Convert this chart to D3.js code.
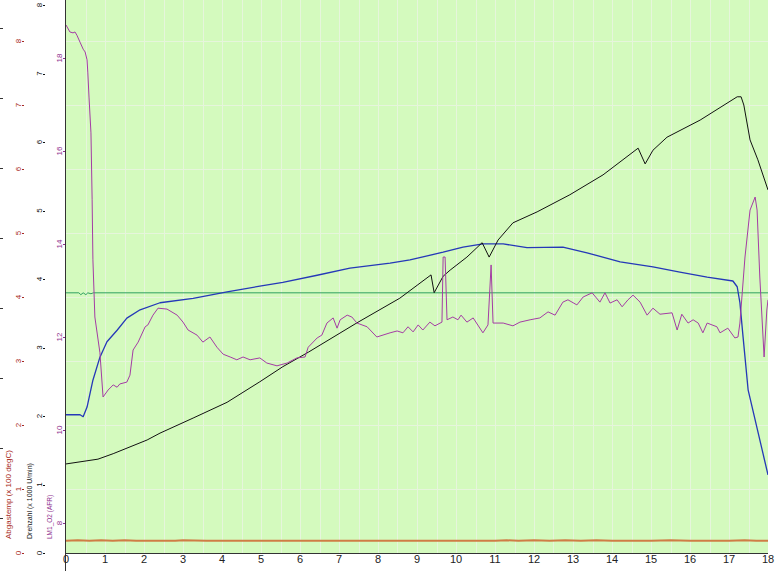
<!DOCTYPE html>
<html>
<head>
<meta charset="utf-8">
<script src="https://cdn.jsdelivr.net/npm/d3@7"></script>
<style>
  body { margin: 0; background: #fff; }
  svg { display: block; font-family: "Liberation Sans", Arial, sans-serif; }
</style>
</head>
<body>
<svg id="chart" width="778" height="571"></svg>
<script>
/* x axis ticks */
const xTicks = d3.range(0, 19);

/* Drehzahl (x 1000 U/min) */
const drehzahl = [
  [0, 1.30], [0.82, 1.37], [1.21, 1.45], [2.08, 1.65], [2.41, 1.75], [3.26, 1.97],
  [4.13, 2.20], [4.97, 2.50], [5.56, 2.72], [6.21, 2.93], [7.46, 3.36], [8.56, 3.72],
  [9.36, 4.06], [9.44, 3.80], [9.67, 4.04], [9.85, 4.13], [10.28, 4.32], [10.67, 4.53],
  [10.85, 4.32], [11.08, 4.57], [11.46, 4.82], [12.08, 4.98], [12.92, 5.23], [13.77, 5.52],
  [14.67, 5.91], [14.85, 5.68], [15.05, 5.88], [15.41, 6.07], [16.26, 6.32], [17.21, 6.66],
  [17.31, 6.66], [17.38, 6.54], [17.54, 6.03], [17.74, 5.74], [18, 5.30],
];

/* Abgastemp (x 100 degC) */
const abgastemp = [
  [0, 2.16], [0.36, 2.16], [0.44, 2.13], [0.54, 2.28], [0.69, 2.70], [0.87, 3.06],
  [1.05, 3.30], [1.31, 3.48], [1.56, 3.67], [1.90, 3.80], [2.41, 3.91], [3.26, 3.98],
  [4.13, 4.08], [4.97, 4.17], [5.56, 4.23], [6.44, 4.34], [7.28, 4.45], [8.31, 4.53],
  [8.82, 4.58], [9.67, 4.70], [10.18, 4.78], [10.69, 4.83], [11.21, 4.83], [11.82, 4.77],
  [12.74, 4.78], [13.36, 4.69], [14.21, 4.55], [15.05, 4.47], [15.74, 4.39], [16.44, 4.31],
  [17.10, 4.25], [17.21, 4.16], [17.28, 3.91], [17.36, 3.38], [17.49, 2.55], [17.67, 2.08],
  [17.85, 1.61], [18, 1.22],
];

/* LM1_O2 (AFR) */
const lm1O2 = [
  [0, 18.71], [0.10, 18.56], [0.18, 18.54], [0.23, 18.56], [0.28, 18.49], [0.36, 18.34],
  [0.44, 18.19], [0.49, 18.13], [0.54, 17.96], [0.56, 17.68], [0.59, 17.16], [0.64, 16.39],
  [0.67, 14.95], [0.69, 13.66], [0.74, 12.43], [0.87, 11.66], [0.95, 10.71], [1.08, 10.86],
  [1.21, 10.97], [1.31, 10.92], [1.38, 10.99], [1.56, 11.03], [1.64, 11.18], [1.72, 11.72],
  [1.85, 11.89], [2.03, 12.22], [2.10, 12.26], [2.23, 12.47], [2.36, 12.62], [2.59, 12.60],
  [2.85, 12.47], [3.00, 12.32], [3.13, 12.15], [3.36, 12.04], [3.51, 11.89], [3.69, 12.00],
  [3.87, 11.78], [4.03, 11.63], [4.21, 11.57], [4.38, 11.51], [4.54, 11.57], [4.72, 11.51],
  [4.97, 11.55], [5.15, 11.44], [5.41, 11.38], [5.67, 11.44], [5.92, 11.55], [6.13, 11.57],
  [6.21, 11.78], [6.44, 11.98], [6.56, 12.04], [6.69, 12.30], [6.85, 12.41], [6.95, 12.19],
  [7.03, 12.37], [7.21, 12.47], [7.33, 12.43], [7.46, 12.30], [7.72, 12.22], [7.97, 12.00],
  [8.31, 12.09], [8.49, 12.13], [8.64, 12.09], [8.77, 12.22], [8.90, 12.11], [9.03, 12.26],
  [9.15, 12.15], [9.33, 12.32], [9.46, 12.24], [9.64, 12.32], [9.67, 13.72], [9.72, 13.72],
  [9.77, 12.37], [9.92, 12.43], [10.05, 12.37], [10.13, 12.47], [10.28, 12.32], [10.44, 12.41],
  [10.69, 12.09], [10.82, 12.26], [10.90, 13.55], [10.95, 12.30], [11.21, 12.30], [11.46, 12.24],
  [11.64, 12.32], [11.90, 12.37], [12.15, 12.41], [12.36, 12.54], [12.54, 12.47], [12.74, 12.75],
  [12.87, 12.80], [13.10, 12.69], [13.26, 12.86], [13.49, 12.95], [13.69, 12.75], [13.82, 12.95],
  [13.95, 12.73], [14.13, 12.80], [14.26, 12.65], [14.41, 12.80], [14.54, 12.90], [14.72, 12.75],
  [14.90, 12.47], [15.05, 12.62], [15.23, 12.49], [15.54, 12.52], [15.67, 12.15], [15.79, 12.49],
  [15.95, 12.30], [16.08, 12.37], [16.21, 12.30], [16.33, 12.09], [16.44, 12.30], [16.69, 12.22],
  [16.77, 12.09], [16.97, 12.19], [17.15, 11.98], [17.23, 12.00], [17.28, 12.30], [17.41, 13.72],
  [17.54, 14.73], [17.67, 15.01], [17.72, 14.73], [17.79, 13.29], [17.90, 11.57], [17.97, 12.58],
  [18, 12.80],
];

/* constant reference line on the AFR scale */
const afrRef = [
  [0, 12.95], [0.33, 12.95], [0.38, 12.91], [0.44, 12.95], [0.51, 12.91], [0.56, 12.95],
  [0.64, 12.93], [0.70, 12.95], [18, 12.95],
];

/* low trace near the bottom (Abgastemp scale) */
const lowTrace = [
  [0, 0.19], [0.3, 0.20], [0.6, 0.19], [0.9, 0.20], [1.2, 0.19], [1.5, 0.20], [1.8, 0.19],
  [2.1, 0.19], [2.8, 0.19], [3.0, 0.20], [3.6, 0.19], [3.9, 0.19], [11.0, 0.19], [11.3, 0.20],
  [11.6, 0.19], [12.0, 0.20], [12.4, 0.19], [12.8, 0.20], [13.2, 0.19], [13.6, 0.20],
  [14.0, 0.19], [15.0, 0.19], [15.5, 0.20], [16.0, 0.19], [17.0, 0.19], [17.4, 0.20],
  [17.7, 0.19], [18, 0.19],
];

const redTicks = d3.range(0, 9);
const blackTicks = d3.range(0, 9);
const afrTicks = [8, 10, 12, 14, 16, 18];
const hiddenTicks = d3.range(1, 9);

const svg = d3.select('#chart');
const plotLeft = 66;
const plotRight = 768;
const plotTop = 0;
const plotBottom = 553;

const x = d3.scaleLinear().domain([0, 18]).range([plotLeft, plotRight]);
const yRed = d3.scaleLinear().domain([0, 8]).range([plotBottom, 41]);
const yBlack = d3.scaleLinear().domain([0, 8]).range([plotBottom, 5]);
const yAfr = d3.scaleLinear().domain([8, 18]).range([523, 58]);
const yHidden = d3.scaleLinear().domain([0, 8]).range([588, 28]);

/* plot background */
svg.append('rect')
  .attr('x', plotLeft).attr('y', plotTop)
  .attr('width', plotRight - plotLeft).attr('height', plotBottom - plotTop)
  .attr('fill', '#d4fabe');

/* grid */
const grid = svg.append('g').attr('stroke', '#e6f5dc').attr('stroke-width', 1);
grid.selectAll('.vg').data(d3.range(0.5, 18, 0.5))
  .join('line')
  .attr('x1', (d) => Math.round(x(d)) + 0.5).attr('x2', (d) => Math.round(x(d)) + 0.5)
  .attr('y1', plotTop).attr('y2', plotBottom);
grid.selectAll('.hg').data(d3.range(1, 9))
  .join('line')
  .attr('x1', plotLeft).attr('x2', plotRight)
  .attr('y1', (d) => Math.round(yRed(d)) + 0.5).attr('y2', (d) => Math.round(yRed(d)) + 0.5);

svg.append('clipPath').attr('id', 'clip')
  .append('rect')
  .attr('x', plotLeft)
  .attr('y', plotTop)
  .attr('width', plotRight - plotLeft)
  .attr('height', plotBottom - plotTop);

const plot = svg.append('g').attr('clip-path', 'url(#clip)');

function drawLine(data, yScale, color, width) {
  const line = d3.line().x((d) => x(d[0])).y((d) => yScale(d[1]));
  plot.append('path')
    .datum(data)
    .attr('d', line)
    .attr('fill', 'none')
    .attr('stroke', color)
    .attr('stroke-width', width)
    .attr('stroke-linejoin', 'round');
}

drawLine(lowTrace, yRed, '#cf7d45', 2);
drawLine(afrRef, yAfr, '#2fa060', 1);
drawLine(abgastemp, yRed, '#2538b8', 1.3);
drawLine(drehzahl, yBlack, '#111', 1);
drawLine(lm1O2, yAfr, '#a43ca4', 1);

/* frame lines */
svg.append('line')
  .attr('x1', plotLeft - 0.5).attr('x2', plotLeft - 0.5)
  .attr('y1', 0).attr('y2', 571)
  .attr('stroke', '#333');
svg.append('line')
  .attr('x1', plotLeft).attr('x2', plotRight)
  .attr('y1', plotBottom + 0.5).attr('y2', plotBottom + 0.5)
  .attr('stroke', '#333');

/* x tick labels */
svg.append('g').selectAll('text').data(xTicks)
  .join('text')
  .attr('x', (d) => x(d))
  .attr('y', 563)
  .attr('text-anchor', 'middle')
  .attr('font-size', 11)
  .attr('fill', '#222')
  .text((d) => d);

/* rotated y axes */
function yAxis(ticks, scale, labelX, color) {
  const g = svg.append('g');
  g.selectAll('line').data(ticks)
    .join('line')
    .attr('x1', labelX + 1).attr('x2', labelX + 3)
    .attr('y1', (d) => Math.round(scale(d)) + 0.5)
    .attr('y2', (d) => Math.round(scale(d)) + 0.5)
    .attr('stroke', color);
  g.selectAll('text').data(ticks)
    .join('text')
    .attr('transform', (d) => `translate(${labelX},${scale(d)}) rotate(-90)`)
    .attr('text-anchor', 'middle')
    .attr('font-size', 8)
    .attr('fill', color)
    .text((d) => d);
}

/* outer axis, its labels fall outside the window */
svg.append('g').selectAll('line').data(hiddenTicks)
  .join('line')
  .attr('x1', 0).attr('x2', 3)
  .attr('y1', (d) => Math.round(yHidden(d)) + 0.5)
  .attr('y2', (d) => Math.round(yHidden(d)) + 0.5)
  .attr('stroke', '#333');

yAxis(redTicks, yRed, 21, '#a82a22');
yAxis(blackTicks, yBlack, 42, '#111');
yAxis(afrTicks, yAfr, 62, '#8e2f8e');

/* axis titles */
const titles = [
  { text: 'Abgastemp (x 100 degC)', x: 11, color: '#a82a22', size: 8 },
  { text: 'Drehzahl (x 1000 U/min)', x: 32, color: '#111', size: 7 },
  { text: 'LM1_O2 (AFR)', x: 52, color: '#8e2f8e', size: 6.5 },
];
svg.append('g').selectAll('text').data(titles)
  .join('text')
  .attr('transform', (d) => `translate(${d.x},539) rotate(-90)`)
  .attr('text-anchor', 'start')
  .attr('font-size', (d) => d.size)
  .attr('fill', (d) => d.color)
  .text((d) => d.text);
</script>
</body>
</html>
